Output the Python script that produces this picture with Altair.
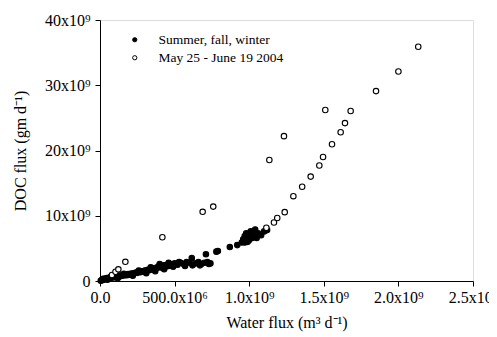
import altair as alt
import pandas as pd

# Values in units of 1e9
summer_x = [0.005,0.01,0.015,0.02,0.025,0.03,0.035,0.04,0.045,0.05,0.055,0.06,0.065,0.07,0.08,0.085,0.09,0.10,0.105,0.11,
            0.12,0.125,0.13,0.14,0.15,0.16,0.17,0.18,0.19,0.20,0.21,0.22,0.23,0.24,0.25,0.26,0.27,0.28,0.29,0.30,
            0.31,0.32,0.33,0.34,0.35,0.36,0.37,0.38,0.39,0.40,0.41,0.42,0.43,0.44,0.45,0.46,0.47,0.48,0.50,0.52,
            0.54,0.56,0.58,0.60,0.615,0.64,0.66,0.68,0.70,0.72,0.74,0.71,0.78,0.79,0.87,0.92,0.95,0.96,0.97,0.98,
            0.99,1.0,1.01,1.02,1.03,1.05,1.06,1.08,1.10,1.12,1.0,0.99,
            0.02,0.05,0.08,0.12,0.16,0.22,0.26,0.31,0.34,0.37,0.40,0.43,0.46,0.49,0.53,0.57,0.62,0.67,0.73,0.97,1.04]
summer_y = [0.05,0.1,0.2,0.15,0.3,0.25,0.35,0.3,0.45,0.4,0.3,0.5,0.45,0.55,0.5,0.65,0.6,0.7,0.55,0.75,
            0.7,0.85,0.8,0.75,0.9,0.85,1.0,0.9,1.05,0.95,1.15,1.1,1.2,1.3,1.25,1.4,1.35,1.5,1.45,1.6,
            1.55,1.7,1.65,1.75,1.9,1.8,2.0,1.95,2.2,2.1,2.3,2.0,2.4,2.2,2.5,2.3,2.6,2.4,2.7,2.5,
            2.8,2.6,2.9,2.8,3.5,2.7,2.9,2.6,2.8,2.9,2.7,4.1,4.5,4.6,5.2,5.5,5.9,6.4,6.9,7.3,
            7.2,6.8,7.6,6.6,7.0,6.6,7.3,7.0,7.6,7.8,6.3,6.0,
            0.35,0.2,0.8,0.45,1.1,0.8,1.6,1.2,2.1,1.5,2.6,1.8,2.8,2.2,2.9,2.3,2.4,2.4,2.6,5.9,7.9]

may_x = [0.080,0.104,0.123,0.170,0.418,0.688,0.759,1.115,1.135,1.166,1.188,1.233,1.238,1.296,1.355,1.412,
         1.470,1.495,1.510,1.555,1.613,1.642,1.680,1.850,2.000,2.133]
may_y = [0.92,1.41,1.79,2.94,6.7,10.6,11.4,8.17,18.55,8.97,9.65,22.2,10.55,13.0,14.45,16.0,
         17.7,19.0,26.2,20.95,22.8,24.2,26.05,29.1,32.1,35.9]

series_names = ["Summer, fall, winter", "May 25 - June 19 2004"]
x_ticks = [0, 0.5, 1.0, 1.5, 2.0, 2.5]
y_ticks = [0, 10, 20, 30, 40]

df = pd.concat([
    pd.DataFrame({"x": summer_x, "y": summer_y, "series": series_names[0]}),
    pd.DataFrame({"x": may_x, "y": may_y, "series": series_names[1]}),
], ignore_index=True)

font = "Liberation Serif"

x_label_expr = ("datum.value == 0 ? '0.0' : (datum.value < 1 ? format(datum.value*1000, '.1f') + 'x10\u2076' "
                ": format(datum.value, '.1f') + 'x10\u2079')")
y_label_expr = "datum.value == 0 ? '0' : format(datum.value, 'd') + 'x10\u2079'"

chart = alt.Chart(df).mark_point(filled=True, stroke="black", strokeWidth=1.1, size=30, opacity=1).encode(
    x=alt.X("x:Q", scale=alt.Scale(domain=[0, 2.5], nice=False),
            axis=alt.Axis(values=x_ticks, labelExpr=x_label_expr, title="Water flux (m\u00b3 d\u207b\u00b9)",
                          grid=False, tickSize=5, tickColor="black", domainColor="black",
                          labelFont=font, labelFontSize=16, labelColor="black", labelPadding=3,
                          labelFlush=False, labelOverlap=False,
                          titleFont=font, titleFontSize=16, titleFontWeight="normal", titleColor="black",
                          titlePadding=9)),
    y=alt.Y("y:Q", scale=alt.Scale(domain=[0, 40], nice=False),
            axis=alt.Axis(values=y_ticks, labelExpr=y_label_expr, title="DOC flux (gm d\u207b\u00b9)",
                          grid=False, tickSize=5, tickColor="black", domainColor="black",
                          labelFont=font, labelFontSize=16, labelColor="black", labelPadding=5,
                          labelFlush=False, labelOverlap=False,
                          titleFont=font, titleFontSize=16, titleFontWeight="normal", titleColor="black",
                          titlePadding=16)),
    fill=alt.Fill("series:N", scale=alt.Scale(domain=series_names, range=["black", "white"]),
                  sort=series_names,
                  legend=alt.Legend(title=None, orient="none", legendX=28, legendY=13,
                                    labelFont=font, labelFontSize=13.5, labelColor="black",
                                    symbolSize=18, symbolStrokeColor="black", symbolStrokeWidth=1,
                                    labelOffset=17, rowPadding=3, padding=0)),
    order=alt.Order("series:N", sort="descending"),
).properties(
    width=373, height=261,
    autosize=alt.AutoSizeParams(type="none"),
    padding={"left": 92, "top": 12, "right": 16, "bottom": 56},
).configure_view(stroke="#808080", strokeWidth=1).configure(background="white")

chart.save("out.html", embed_options={"renderer": "svg", "actions": False})
